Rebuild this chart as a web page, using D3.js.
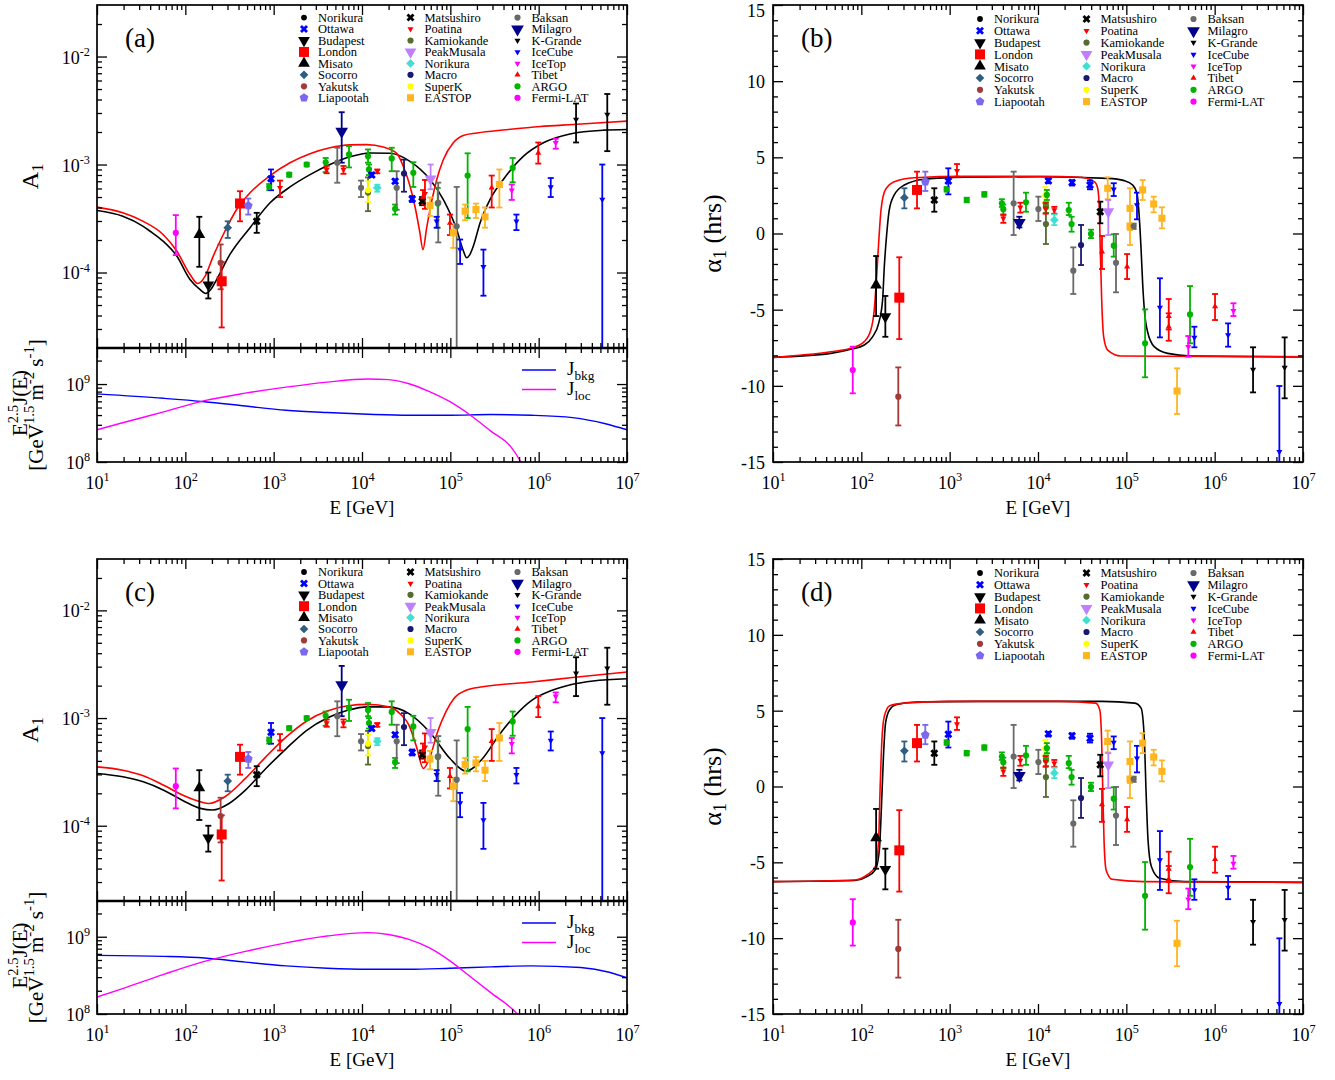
<!DOCTYPE html>
<html>
<head>
<meta charset="utf-8">
<script src="https://cdn.jsdelivr.net/npm/d3@7"></script>
<style>
  body { margin: 0; background: #fff; }
  svg { display: block; }
</style>
</head>
<body>
<script>
// ---- tick values ----
const energyDecades = [1e1, 1e2, 1e3, 1e4, 1e5, 1e6, 1e7];
const ampDecades = [1e-4, 1e-3, 1e-2];
const fluxDecades = [1e8, 1e9];
const phaseTicks = [-15, -10, -5, 0, 5, 10, 15];

// ---- experiments (legend order, by column) ----
const legendColumns = [
  ['Norikura', 'Ottawa', 'Budapest', 'London', 'Misato', 'Socorro', 'Yakutsk', 'Liapootah'],
  ['Matsushiro', 'Poatina', 'Kamiokande', 'PeakMusala', 'Norikura2', 'Macro', 'SuperK', 'EASTOP'],
  ['Baksan', 'Milagro', 'KGrande', 'IceCube', 'IceTop', 'Tibet', 'ARGO', 'Fermi']
];
const expLabels = {
  Norikura: 'Norikura', Ottawa: 'Ottawa', Budapest: 'Budapest', London: 'London', Misato: 'Misato',
  Socorro: 'Socorro', Yakutsk: 'Yakutsk', Liapootah: 'Liapootah', Matsushiro: 'Matsushiro',
  Poatina: 'Poatina', Kamiokande: 'Kamiokande', PeakMusala: 'PeakMusala', Norikura2: 'Norikura',
  Macro: 'Macro', SuperK: 'SuperK', EASTOP: 'EASTOP', Baksan: 'Baksan', Milagro: 'Milagro',
  KGrande: 'K-Grande', IceCube: 'IceCube', IceTop: 'IceTop', Tibet: 'Tibet', ARGO: 'ARGO', Fermi: 'Fermi-LAT'
};

// ---- dipole amplitude data: [experiment, E (GeV), A1, low, high] ----
const ampData = [
  ['Fermi', 78, 2.33e-4, 1.45e-4, 3.4e-4],
  ['Misato', 144, 2.25e-4, 1.13e-4, 3.28e-4],
  ['Budapest', 182, 7.7e-5, 5.75e-5, 1.0e-4],
  ['Yakutsk', 251, 1.23e-4, 7.0e-5, 1.82e-4],
  ['London', 258, 8.3e-5, 3.1e-5, 1.25e-4],
  ['Socorro', 302, 2.6e-4, 2.09e-4, 2.98e-4],
  ['London', 416, 4.36e-4, 2.98e-4, 5.66e-4],
  ['Liapootah', 516, 4.17e-4, 3.44e-4, 4.84e-4],
  ['Matsushiro', 643, 2.98e-4, 2.33e-4, 3.57e-4],
  ['ARGO', 891, 6.2e-4, 5.8e-4, 6.6e-4],
  ['Ottawa', 933, 7.4e-4, 5.78e-4, 9.0e-4],
  ['Poatina', 1180, 6.08e-4, 5.0e-4, 7.1e-4],
  ['ARGO', 1500, 8.07e-4, 7.7e-4, 8.4e-4],
  ['ARGO', 2365, 1.0e-3, 9.6e-4, 1.04e-3],
  ['ARGO', 3880, 1.05e-3, 8.5e-4, 1.15e-3],
  ['Poatina', 3980, 9.0e-4, 8.3e-4, 9.7e-4],
  ['Baksan', 5250, 1.04e-3, 6.78e-4, 1.43e-3],
  ['Milagro', 5890, 2.03e-3, 1.04e-3, 3.05e-3],
  ['Poatina', 6170, 9.0e-4, 8.2e-4, 9.7e-4],
  ['ARGO', 7130, 1.24e-3, 9.4e-4, 1.48e-3],
  ['Baksan', 9750, 6.08e-4, 5.0e-4, 7.1e-4],
  ['ARGO', 11700, 1.19e-3, 1.04e-3, 1.38e-3],
  ['ARGO', 12000, 9.0e-4, 8.0e-4, 1.0e-3],
  ['Kamiokande', 11700, 5.5e-4, 3.7e-4, 7.6e-4],
  ['SuperK', 11700, 5.78e-4, 4.5e-4, 7.0e-4],
  ['Ottawa', 12900, 8.0e-4, 7.7e-4, 8.4e-4],
  ['Poatina', 14900, 8.67e-4, 8.3e-4, 9.0e-4],
  ['Norikura2', 14900, 6.08e-4, 5.6e-4, 6.5e-4],
  ['ARGO', 21700, 1.14e-3, 8.67e-4, 1.43e-3],
  ['ARGO', 23700, 3.89e-4, 3.44e-4, 4.26e-4],
  ['Ottawa', 23700, 7.0e-4, 6.7e-4, 7.3e-4],
  ['Baksan', 24700, 6.08e-4, 3.81e-4, 8.67e-4],
  ['Macro', 29900, 8.26e-4, 5.6e-4, 1.11e-3],
  ['ARGO', 38100, 8.37e-4, 6.2e-4, 1.05e-3],
  ['Ottawa', 37000, 4.8e-4, 4.5e-4, 5.1e-4],
  ['Matsushiro', 48000, 4.57e-4, 4.2e-4, 5.0e-4],
  ['Poatina', 51600, 5.36e-4, 3.89e-4, 7.2e-4],
  ['Tibet', 49000, 5.0e-4, 4.3e-4, 5.8e-4],
  ['EASTOP', 58900, 4.17e-4, 3.34e-4, 4.95e-4],
  ['PeakMusala', 59800, 7.36e-4, 5.9e-4, 1.0e-3],
  ['ARGO', 72000, 4.36e-4, 2.6e-4, 6.08e-4],
  ['Baksan', 73000, 4.42e-4, 1.9e-4, 6.8e-4],
  ['IceCube', 70000, 2.98e-4, 2.6e-4, 3.28e-4],
  ['Tibet', 99000, 2.88e-4, 2.22e-4, 3.44e-4],
  ['EASTOP', 108000, 2.33e-4, 1.69e-4, 2.79e-4],
  ['Baksan', 118000, 2.68e-4, 1e-6, 6.2e-4],
  ['IceCube', 129000, 1.63e-4, 1.2e-4, 2.02e-4],
  ['ARGO', 157000, 7.9e-4, 3.2e-4, 1.27e-3],
  ['EASTOP', 147000, 3.7e-4, 3.05e-4, 4.26e-4],
  ['EASTOP', 195000, 3.83e-4, 3.2e-4, 4.35e-4],
  ['EASTOP', 247000, 3.28e-4, 2.6e-4, 4.0e-4],
  ['IceCube', 237000, 1.13e-4, 6.1e-5, 1.63e-4],
  ['Tibet', 294000, 6.08e-4, 4.0e-4, 7.9e-4],
  ['EASTOP', 359000, 6.53e-4, 4.0e-4, 9.0e-4],
  ['IceTop', 496000, 5.78e-4, 4.7e-4, 6.53e-4],
  ['ARGO', 508000, 9.3e-4, 6.85e-4, 1.15e-3],
  ['IceCube', 560000, 2.98e-4, 2.47e-4, 3.44e-4],
  ['Tibet', 990000, 1.28e-3, 1.02e-3, 1.6e-3],
  ['IceCube', 1.37e6, 6.2e-4, 5.0e-4, 7.5e-4],
  ['IceTop', 1.56e6, 1.59e-3, 1.4e-3, 1.73e-3],
  ['KGrande', 2.65e6, 2.61e-3, 1.6e-3, 3.67e-3],
  ['KGrande', 5.98e6, 2.9e-3, 1.33e-3, 4.5e-3],
  ['IceCube', 5.25e6, 4.74e-4, 1e-6, 1.0e-3]
];

// ---- dipole phase data: [experiment, E (GeV), alpha1 (hrs), low, high] ----
const phaseData = [
  ['Fermi', 80, -8.96, -10.49, -7.43],
  ['Misato', 147, -3.38, -5.42, -1.48],
  ['Budapest', 187, -5.46, -6.78, -4.1],
  ['London', 269, -4.21, -6.93, -1.56],
  ['Yakutsk', 262, -10.71, -12.6, -8.79],
  ['Socorro', 307, 2.35, 1.65, 2.97],
  ['London', 427, 2.86, 1.65, 4.06],
  ['Liapootah', 530, 3.4, 2.79, 4.06],
  ['Matsushiro', 670, 2.2, 1.43, 2.97],
  ['ARGO', 925, 2.9, 2.75, 3.05],
  ['Ottawa', 966, 3.45, 2.57, 4.28],
  ['Poatina', 1210, 4.12, 3.73, 4.56],
  ['ARGO', 1560, 2.2, 2.05, 2.35],
  ['ARGO', 2470, 2.57, 2.42, 2.72],
  ['ARGO', 3900, 1.98, 1.75, 2.25],
  ['ARGO', 4050, 1.6, 1.21, 1.9],
  ['Poatina', 4050, 1.0, 0.7, 1.25],
  ['Baksan', 5300, 1.98, -0.1, 4.06],
  ['Milagro', 6150, 0.71, 0.4, 1.1],
  ['Poatina', 6310, 1.72, 1.37, 2.02],
  ['ARGO', 7310, 2.05, 1.43, 2.68],
  ['Baksan', 10100, 1.61, 0.82, 2.42],
  ['SuperK', 12100, 2.5, 2.05, 3.05],
  ['ARGO', 12600, 2.53, 2.2, 2.86],
  ['ARGO', 12300, 1.72, 1.35, 2.05],
  ['Kamiokande', 12300, 0.62, -0.69, 1.87],
  ['Poatina', 12200, 1.65, 1.3, 2.0],
  ['Poatina', 15300, 1.54, 1.3, 1.75],
  ['Norikura2', 15300, 0.89, 0.55, 1.25],
  ['Ottawa', 13100, 3.47, 3.3, 3.6],
  ['Ottawa', 24300, 3.34, 3.15, 3.5],
  ['Ottawa', 38800, 3.18, 2.9, 3.48],
  ['ARGO', 22300, 1.54, 1.21, 2.02],
  ['ARGO', 24000, 0.62, 0.12, 1.1],
  ['Baksan', 25100, -2.44, -3.97, -0.91],
  ['Macro', 30700, -0.76, -2.07, 0.56],
  ['ARGO', 39800, -0.03, -0.3, 0.25],
  ['Matsushiro', 50700, 1.43, 0.67, 2.09],
  ['Tibet', 53000, -1.19, -2.33, -0.16],
  ['EASTOP', 61500, 2.97, 2.25, 3.69],
  ['PeakMusala', 62500, 1.43, -0.1, 2.2],
  ['IceCube', 72000, 2.9, 2.46, 3.3],
  ['ARGO', 72000, -0.8, -1.52, -0.05],
  ['Baksan', 76400, -1.92, -3.86, -0.03],
  ['EASTOP', 110000, 1.65, 0.23, 2.97],
  ['EASTOP', 110000, 0.49, -0.76, 1.65],
  ['Tibet', 102000, -2.18, -2.99, -1.35],
  ['Baksan', 121000, 0.49, 0.3, 0.65],
  ['IceCube', 132000, 1.87, 0.93, 2.68],
  ['EASTOP', 153000, 2.86, 2.2, 3.51],
  ['ARGO', 163000, -7.21, -9.44, -4.98],
  ['EASTOP', 204000, 1.94, 1.39, 2.42],
  ['EASTOP', 253000, 1.0, 0.34, 1.72],
  ['IceCube', 240000, -4.85, -6.82, -2.94],
  ['Tibet', 302000, -5.44, -6.3, -4.3],
  ['Tibet', 302000, -6.12, -7.04, -5.24],
  ['EASTOP', 375000, -10.34, -11.85, -8.85],
  ['ARGO', 526000, -5.31, -7.21, -3.45],
  ['IceTop', 503000, -7.43, -8.09, -6.73],
  ['IceCube', 589000, -6.82, -7.47, -6.12],
  ['Tibet', 1.01e6, -4.8, -5.68, -3.97],
  ['IceCube', 1.42e6, -6.66, -7.43, -5.9],
  ['IceTop', 1.63e6, -5.07, -5.42, -4.58],
  ['KGrande', 2.72e6, -8.92, -10.43, -7.47],
  ['KGrande', 6.2e6, -8.79, -10.82, -6.82],
  ['IceCube', 5.4e6, -14.33, -16, -10.01]
];

// ---- model curves, panel (a) ----
const ampA_black = [[10,3.75e-4],[19.6,3.32e-4],[33,2.69e-4],[40,2.41e-4],[56,1.95e-4],[80,1.42e-4],[113,8.6e-5],[145,7.0e-5],[171,6.4e-5],[195,7.0e-5],[226,8.6e-5],[320,1.47e-4],[540,2.6e-4],[910,4.42e-4],[1530,6.2e-4],[2580,8.07e-4],[4340,1.0e-3],[7310,1.18e-3],[12300,1.28e-3],[20700,1.27e-3],[34900,1.07e-3],[58900,7.26e-4],[83400,4.74e-4],[118000,2.5e-4],[140000,1.6e-4],[153000,1.37e-4],[165000,1.45e-4],[182000,1.75e-4],[217000,2.88e-4],[281000,4.74e-4],[398000,7.26e-4],[670000,1.19e-3],[1.13e6,1.59e-3],[2.26e6,1.92e-3],[5.4e6,2.08e-3],[1e7,2.11e-3]];
const ampA_red = [[10,4.03e-4],[19.6,3.57e-4],[33,2.99e-4],[56,2.25e-4],[80,1.58e-4],[113,9.6e-5],[138,7.9e-5],[167,9.2e-5],[207,1.42e-4],[269,2.25e-4],[381,3.83e-4],[540,5.47e-4],[910,7.9e-4],[1530,1.04e-3],[2580,1.26e-3],[4340,1.43e-3],[7310,1.52e-3],[11300,1.53e-3],[17400,1.45e-3],[24700,1.27e-3],[30000,9.2e-4],[35000,6.3e-4],[40000,4.0e-4],[45000,2.4e-4],[49000,1.63e-4],[54000,2.6e-4],[62000,4.7e-4],[70000,7.2e-4],[83000,1.1e-3],[108000,1.59e-3],[140000,1.86e-3],[200000,1.96e-3],[430000,2.1e-3],[1.04e6,2.25e-3],[2.47e6,2.35e-3],[1e7,2.52e-3]];
const fluxA_bkg = [[10,7.48e8],[57,6.56e8],[165,5.94e8],[479,5.22e8],[1380,4.62e8],[4040,4.31e8],[11700,4.1e8],[34000,3.98e8],[99000,3.98e8],[287000,4.06e8],[830000,3.98e8],[2.42e6,3.71e8],[5.7e6,3.1e8],[1e7,2.59e8]];
const fluxA_loc = [[10,2.59e8],[19.5,3.19e8],[57,4.4e8],[165,6.12e8],[479,7.64e8],[1380,9.13e8],[4040,1.06e9],[11700,1.16e9],[20000,1.14e9],[34000,1.01e9],[58000,8.0e8],[99000,5.94e8],[169000,3.98e8],[287000,2.49e8],[490000,1.54e8],[620000,1.03e8],[700000,8e7]];

// ---- model curves, panel (b) ----
const phaseB_black = [[10,-8.13],[45,-7.87],[76,-7.6],[108,-7.32],[134,-6.78],[157,-5.9],[174,-4.37],[182,-2.18],[194,0.01],[207,1.54],[236,2.53],[307,3.18],[516,3.56],[1466,3.7],[10800,3.73],[62000,3.62],[95000,3.47],[118000,3.18],[132000,2.64],[140000,1.1],[147000,-1.08],[153000,-3.27],[160000,-5.02],[174000,-6.45],[207000,-7.43],[294000,-7.87],[540000,-8.04],[1e7,-8.1]];
const phaseB_red = [[10,-8.13],[45,-7.76],[76,-7.54],[108,-7.1],[128,-6.34],[140,-5.02],[149,-2.84],[157,-0.64],[167,1.54],[187,2.86],[236,3.4],[398,3.66],[1466,3.75],[10800,3.75],[30700,3.69],[43400,3.4],[47400,2.97],[49500,1.54],[50700,-1.08],[52600,-4.37],[55400,-6.78],[61500,-7.65],[87000,-8.04],[1e7,-8.1]];

// ---- model curves, panel (c) ----
const ampC_black = [[10,3.06e-4],[19.6,2.85e-4],[33.4,2.56e-4],[56.9,2.14e-4],[96.9,1.69e-4],[148,1.45e-4],[204,1.4e-4],[313,1.61e-4],[479,2.14e-4],[816,3.4e-4],[1390,5.21e-4],[2370,7.7e-4],[4040,1.0e-3],[6890,1.18e-3],[11700,1.27e-3],[20000,1.27e-3],[34000,1.1e-3],[58000,7.45e-4],[99000,4.21e-4],[151000,3.21e-4],[232000,4.21e-4],[355000,6.93e-4],[544000,1.06e-3],[834000,1.46e-3],[1.42e6,1.81e-3],[2.42e6,2.06e-3],[4.13e6,2.21e-3],[1e7,2.32e-3]];
const ampC_red = [[10,3.52e-4],[19.6,3.28e-4],[33.4,2.91e-4],[56.9,2.38e-4],[96.9,1.9e-4],[148,1.67e-4],[184,1.61e-4],[281,1.86e-4],[479,2.75e-4],[816,4.36e-4],[1390,6.68e-4],[2370,9.4e-4],[4040,1.16e-3],[6890,1.3e-3],[11700,1.34e-3],[20000,1.27e-3],[27500,1.08e-3],[34000,8.6e-4],[42000,5.2e-4],[49400,3.4e-4],[58000,4.2e-4],[71800,7.45e-4],[89000,1.14e-3],[110000,1.52e-3],[151000,1.81e-3],[232000,1.95e-3],[834000,2.16e-3],[2.42e6,2.38e-3],[1e7,2.68e-3]];
const fluxC_bkg = [[10,5.74e8],[57,5.57e8],[165,5.3e8],[479,4.69e8],[1380,4.2e8],[4040,3.91e8],[11700,3.79e8],[34000,3.79e8],[99000,3.91e8],[287000,4.07e8],[830000,4.2e8],[3.0e6,3.99e8],[6.3e6,3.47e8],[1e7,2.94e8]];
const fluxC_loc = [[10,1.66e8],[19.5,2.13e8],[57,3.26e8],[165,4.79e8],[479,6.47e8],[1380,8.34e8],[4040,1.02e9],[11700,1.13e9],[20000,1.07e9],[34000,9.22e8],[58000,7.16e8],[99000,4.88e8],[169000,3.04e8],[287000,1.89e8],[575000,1.0e8],[650000,8.5e7]];

// ---- model curves, panel (d) ----
const phaseD_black = [[10,-6.27],[84,-6.2],[116,-5.94],[144,-5.5],[160,-4.18],[169,-1.32],[178,1.98],[188,4.18],[209,5.06],[246,5.39],[421,5.57],[2110,5.61],[53000,5.61],[125000,5.5],[147000,5.17],[160000,3.08],[167000,-0.22],[176000,-3.52],[192000,-5.28],[238000,-6.05],[454000,-6.27],[1e7,-6.32]];
const phaseD_red = [[10,-6.27],[84,-6.16],[116,-5.83],[144,-5.28],[157,-3.52],[163,-0.22],[171,3.08],[182,4.62],[209,5.33],[305,5.5],[1000,5.61],[18000,5.61],[45000,5.5],[50000,5.06],[52500,3.08],[54100,-0.22],[55900,-3.52],[59000,-5.5],[69000,-6.12],[155000,-6.27],[1e7,-6.32]];

// ================= drawing =================
const W = 1335, H = 1080;
const FONT = '"Liberation Serif", "Times New Roman", Times, serif';

const expStyle = {
  Norikura:   { color: '#000000', shape: 'circle',   size: 26 },
  Ottawa:     { color: '#0000ff', shape: 'x',        size: 40 },
  Budapest:   { color: '#000000', shape: 'tridown',  size: 60 },
  London:     { color: '#ff0000', shape: 'square',   size: 100 },
  Misato:     { color: '#000000', shape: 'triup',    size: 60 },
  Socorro:    { color: '#2f5f80', shape: 'diamond',  size: 38 },
  Yakutsk:    { color: '#a33a3a', shape: 'circle',   size: 30 },
  Liapootah:  { color: '#7b68ee', shape: 'pentagon', size: 50 },
  Matsushiro: { color: '#000000', shape: 'x',        size: 40 },
  Poatina:    { color: '#ff0000', shape: 'tridown',  size: 16 },
  Kamiokande: { color: '#556b2f', shape: 'circle',   size: 30 },
  PeakMusala: { color: '#bf80ff', shape: 'tridown',  size: 60 },
  Norikura2:  { color: '#40e0d0', shape: 'diamond',  size: 38 },
  Macro:      { color: '#191970', shape: 'circle',   size: 30 },
  SuperK:     { color: '#ffff00', shape: 'circle',   size: 30 },
  EASTOP:     { color: '#ffb520', shape: 'square',   size: 50 },
  Baksan:     { color: '#696969', shape: 'circle',   size: 30 },
  Milagro:    { color: '#00008b', shape: 'tridown',  size: 70 },
  KGrande:    { color: '#000000', shape: 'tridown',  size: 16 },
  IceCube:    { color: '#0000ff', shape: 'tridown',  size: 16 },
  IceTop:     { color: '#ff00ff', shape: 'tridown',  size: 16 },
  Tibet:      { color: '#ff0000', shape: 'triup',    size: 16 },
  ARGO:       { color: '#00b400', shape: 'circle',   size: 30 },
  Fermi:      { color: '#ff00ff', shape: 'circle',   size: 30 }
};

const pentagon = {
  draw(ctx, size) {
    const r = Math.sqrt(size / 2.378);
    for (let i = 0; i < 5; i++) {
      const a = -Math.PI / 2 + i * 2 * Math.PI / 5;
      if (i) ctx.lineTo(r * Math.cos(a), r * Math.sin(a)); else ctx.moveTo(r * Math.cos(a), r * Math.sin(a));
    }
    ctx.closePath();
  }
};
const shapeDefs = {
  circle: [d3.symbolCircle, 0],
  square: [d3.symbolSquare, 0],
  diamond: [d3.symbolSquare, 45],
  triup: [d3.symbolTriangle, 0],
  tridown: [d3.symbolTriangle, 180],
  x: [d3.symbolCross, 45],
  pentagon: [pentagon, 0]
};

const panels = {
  a: { x0: 97, x1: 627, top: 5, mid: 348, bot: 462, letter: '(a)', legRow0: 12.6, legDy: 11.45 },
  b: { x0: 773, x1: 1303, top: 5, bot: 462, letter: '(b)', legRow0: 14.0, legDy: 11.8 },
  c: { x0: 97, x1: 627, top: 559, mid: 901, bot: 1014, letter: '(c)', legRow0: 13.0, legDy: 11.4 },
  d: { x0: 773, x1: 1303, top: 559, bot: 1014, letter: '(d)', legRow0: 14.0, legDy: 11.8 }
};
const legendColX = [207, 313.5, 420.5];

const svg = d3.select('body').append('svg')
  .attr('width', W).attr('height', H)
  .attr('font-family', FONT);
svg.append('rect').attr('width', W).attr('height', H).attr('fill', '#fff');

let clipCount = 0;
function clipGroup(x0, x1, y0, y1) {
  const id = 'clip' + (clipCount++);
  svg.append('clipPath').attr('id', id)
    .append('rect').attr('x', x0).attr('y', y0).attr('width', x1 - x0).attr('height', y1 - y0);
  return svg.append('g').attr('clip-path', `url(#${id})`);
}

function logMinors(lo, hi) {
  const out = [];
  for (let k = Math.floor(Math.log10(lo)) - 1; k <= Math.ceil(Math.log10(hi)); k++) {
    for (let m = 2; m <= 9; m++) {
      const v = m * Math.pow(10, k);
      if (v > lo * 1.001 && v < hi * 0.999) out.push(v);
    }
  }
  return out;
}

function drawTicks(scale, orient, pos, majors, minors) {
  const fn = { bottom: d3.axisBottom, top: d3.axisTop, left: d3.axisLeft, right: d3.axisRight }[orient];
  const tr = (orient === 'bottom' || orient === 'top') ? `translate(0,${pos})` : `translate(${pos},0)`;
  [[minors, 5], [majors, 10]].forEach(([vals, len]) => {
    const a = svg.append('g').attr('transform', tr)
      .call(fn(scale).tickValues(vals).tickSize(-len).tickSizeOuter(0).tickFormat(''));
    a.select('.domain').remove();
    a.selectAll('.tick line').attr('stroke', '#000').attr('stroke-width', 1.3);
  });
}

function powText(t, exp) {
  t.append('tspan').text('10');
  t.append('tspan').attr('font-size', '0.68em').attr('dy', '-0.62em').text(exp);
}

function xLabels(x, y0) {
  const a = svg.append('g').attr('transform', `translate(0,${y0})`)
    .call(d3.axisBottom(x).tickValues(energyDecades).tickSize(0).tickPadding(0).tickFormat(''));
  a.select('.domain').remove();
  a.attr('font-family', null).attr('font-size', 18);
  a.selectAll('.tick text').attr('y', 27).attr('dy', null).attr('fill', '#000')
    .each(function (d) { powText(d3.select(this), Math.round(Math.log10(d))); });
}

function yLogLabels(y, x0, vals) {
  const a = svg.append('g').attr('transform', `translate(${x0},0)`)
    .call(d3.axisLeft(y).tickValues(vals).tickSize(0).tickPadding(7).tickFormat(''));
  a.select('.domain').remove();
  a.attr('font-family', null).attr('font-size', 18);
  a.selectAll('.tick text').attr('dy', '0.36em').attr('fill', '#000')
    .each(function (d) { powText(d3.select(this), Math.round(Math.log10(d))); });
}

function yLinLabels(y, x0, vals, yTop) {
  const a = svg.append('g').attr('transform', `translate(${x0},0)`)
    .call(d3.axisLeft(y).tickValues(vals).tickSize(0).tickPadding(8).tickFormat(d => String(d)));
  a.select('.domain').remove();
  a.attr('font-family', null).attr('font-size', 18);
  a.selectAll('.tick text').attr('dy', '0.36em').attr('fill', '#000');
  // keep the topmost label inside the picture
  a.selectAll('.tick').filter(d => y(d) < 10).select('text').attr('dy', '0.62em');
}

function frame(x0, x1, y0, y1) {
  svg.append('rect').attr('x', x0).attr('y', y0).attr('width', x1 - x0).attr('height', y1 - y0)
    .attr('fill', 'none').attr('stroke', '#000').attr('stroke-width', 1.7);
}

function marker(g, key, cx, cy) {
  const st = expStyle[key];
  const [type, rot] = shapeDefs[st.shape];
  g.append('path')
    .attr('d', d3.symbol(type, st.size)())
    .attr('transform', `translate(${cx},${cy}) rotate(${rot})`)
    .attr('fill', st.color);
}

function drawPoints(g, data, x, y) {
  data.forEach(([key, E, v, lo, hi]) => {
    const color = expStyle[key].color;
    const cx = x(E), y1 = y(lo), y2 = y(hi);
    const eg = g.append('g').attr('stroke', color).attr('stroke-width', 1.8);
    eg.append('line').attr('x1', cx).attr('x2', cx).attr('y1', y1).attr('y2', y2);
    [y1, y2].forEach(yy => eg.append('line').attr('x1', cx - 3).attr('x2', cx + 3).attr('y1', yy).attr('y2', yy));
  });
  data.forEach(([key, E, v]) => marker(g, key, x(E), y(v)));
}

function drawCurve(g, data, x, y, color, width) {
  g.append('path').datum(data)
    .attr('d', d3.line().x(d => x(d[0])).y(d => y(d[1])).curve(d3.curveMonotoneX))
    .attr('fill', 'none').attr('stroke', color).attr('stroke-width', width);
}

function drawLegend(p) {
  const g = svg.append('g');
  legendColumns.forEach((col, ci) => col.forEach((key, ri) => {
    const mx = p.x0 + legendColX[ci];
    const my = p.top + p.legRow0 + ri * p.legDy;
    marker(g, key, mx, my);
    g.append('text').attr('x', mx + 14).attr('y', my + 4.3)
      .attr('font-size', 12.5).text(expLabels[key]);
  }));
}

function letter(p) {
  svg.append('text').attr('x', p.x0 + 28).attr('y', p.top + 42)
    .attr('font-size', 27).text(p.letter);
}

function xTitle(p) {
  svg.append('text').attr('x', (p.x0 + p.x1) / 2).attr('y', p.bot + 52)
    .attr('text-anchor', 'middle').attr('font-size', 19).text('E [GeV]');
}

function ampPanel(p, curveBlack, curveRed, fluxBkg, fluxLoc) {
  const x = d3.scaleLog().domain([10, 1e7]).range([p.x0, p.x1]);
  const yA = d3.scaleLog().domain([2e-5, 3e-2]).range([p.mid, p.top]);
  const yJ = d3.scaleLog().domain([1e8, 2.9e9]).range([p.bot, p.mid]);
  const xMin = logMinors(10, 1e7);

  const gTop = clipGroup(p.x0, p.x1, p.top, p.mid);
  drawCurve(gTop, curveBlack, x, yA, '#000', 1.6);
  drawCurve(gTop, curveRed, x, yA, '#ff0000', 1.6);
  drawPoints(gTop, ampData, x, yA);

  const gBot = clipGroup(p.x0, p.x1, p.mid, p.bot);
  drawCurve(gBot, fluxBkg, x, yJ, '#0000ff', 1.4);
  drawCurve(gBot, fluxLoc, x, yJ, '#ff00ff', 1.4);

  // ticks
  drawTicks(x, 'top', p.top, energyDecades, xMin);
  drawTicks(x, 'bottom', p.mid, energyDecades, xMin);
  drawTicks(x, 'top', p.mid, energyDecades, xMin);
  drawTicks(x, 'bottom', p.bot, energyDecades, xMin);
  const aMin = logMinors(2e-5, 3e-2), jMin = logMinors(1e8, 2.9e9);
  drawTicks(yA, 'left', p.x0, ampDecades, aMin);
  drawTicks(yA, 'right', p.x1, ampDecades, aMin);
  drawTicks(yJ, 'left', p.x0, fluxDecades, jMin);
  drawTicks(yJ, 'right', p.x1, fluxDecades, jMin);
  frame(p.x0, p.x1, p.top, p.mid);
  frame(p.x0, p.x1, p.mid, p.bot);
  svg.append('line').attr('x1', p.x0).attr('x2', p.x1).attr('y1', p.mid).attr('y2', p.mid)
    .attr('stroke', '#000').attr('stroke-width', 2.4);

  xLabels(x, p.bot);
  yLogLabels(yA, p.x0, ampDecades);
  yLogLabels(yJ, p.x0, fluxDecades);
  xTitle(p);
  letter(p);
  drawLegend(p);

  // y titles
  const cyTop = (p.top + p.mid) / 2;
  svg.append('text').attr('transform', `translate(38,${cyTop}) rotate(-90)`)
    .attr('text-anchor', 'middle').attr('font-size', 24)
    .call(t => {
      t.append('tspan').text('A');
      t.append('tspan').attr('font-size', '0.7em').attr('dy', '0.32em').text('1');
    });
  const cyBot = (p.mid + p.bot) / 2;
  svg.append('text').attr('transform', `translate(27,${cyBot - 2}) rotate(-90)`)
    .attr('text-anchor', 'middle').attr('font-size', 21)
    .call(t => {
      t.append('tspan').text('E');
      t.append('tspan').attr('font-size', '0.7em').attr('dy', -9).text('2.5');
      t.append('tspan').attr('dy', 9).text('J(E)');
    });
  svg.append('text').attr('transform', `translate(43,${cyBot}) rotate(-90)`)
    .attr('text-anchor', 'middle').attr('font-size', 21)
    .call(t => {
      t.append('tspan').text('[GeV');
      t.append('tspan').attr('font-size', '0.7em').attr('dy', -9).text('1.5');
      t.append('tspan').attr('dy', 9).text(' m');
      t.append('tspan').attr('font-size', '0.7em').attr('dy', -9).text('-2');
      t.append('tspan').attr('dy', 9).text(' s');
      t.append('tspan').attr('font-size', '0.7em').attr('dy', -9).text('-1');
      t.append('tspan').attr('dy', 9).text(']');
    });

  // J legend
  const lg = svg.append('g');
  [['#0000ff', 'bkg'], ['#ff00ff', 'loc']].forEach(([c, sub], i) => {
    const ly = p.mid + 22 + i * 19.5;
    lg.append('line').attr('x1', p.x0 + 425).attr('x2', p.x0 + 459).attr('y1', ly).attr('y2', ly)
      .attr('stroke', c).attr('stroke-width', 1.4);
    lg.append('text').attr('x', p.x0 + 470).attr('y', ly + 5).attr('font-size', 19)
      .call(t => {
        t.append('tspan').text('J');
        t.append('tspan').attr('font-size', '0.7em').attr('dy', 5).text(sub);
      });
  });
}

function phasePanel(p, curveBlack, curveRed) {
  const x = d3.scaleLog().domain([10, 1e7]).range([p.x0, p.x1]);
  const y = d3.scaleLinear().domain([-15, 15]).range([p.bot, p.top]);
  const xMin = logMinors(10, 1e7);
  const yMin = d3.range(-15, 16).filter(v => v % 5 !== 0);

  const g = clipGroup(p.x0, p.x1, p.top, p.bot);
  drawCurve(g, curveBlack, x, y, '#000', 1.6);
  drawCurve(g, curveRed, x, y, '#ff0000', 1.6);
  drawPoints(g, phaseData, x, y);

  drawTicks(x, 'top', p.top, energyDecades, xMin);
  drawTicks(x, 'bottom', p.bot, energyDecades, xMin);
  drawTicks(y, 'left', p.x0, phaseTicks, yMin);
  drawTicks(y, 'right', p.x1, phaseTicks, yMin);
  frame(p.x0, p.x1, p.top, p.bot);

  xLabels(x, p.bot);
  yLinLabels(y, p.x0, phaseTicks);
  xTitle(p);
  letter(p);
  drawLegend(p);

  svg.append('text').attr('transform', `translate(${p.x0 - 52},${(p.top + p.bot) / 2}) rotate(-90)`)
    .attr('text-anchor', 'middle').attr('font-size', 26)
    .call(t => {
      t.append('tspan').text('α');
      t.append('tspan').attr('font-size', '0.7em').attr('dy', 5).text('1');
      t.append('tspan').attr('dy', -5).text(' (hrs)');
    });
}

ampPanel(panels.a, ampA_black, ampA_red, fluxA_bkg, fluxA_loc);
phasePanel(panels.b, phaseB_black, phaseB_red);
ampPanel(panels.c, ampC_black, ampC_red, fluxC_bkg, fluxC_loc);
phasePanel(panels.d, phaseD_black, phaseD_red);
</script>
</body>
</html>
